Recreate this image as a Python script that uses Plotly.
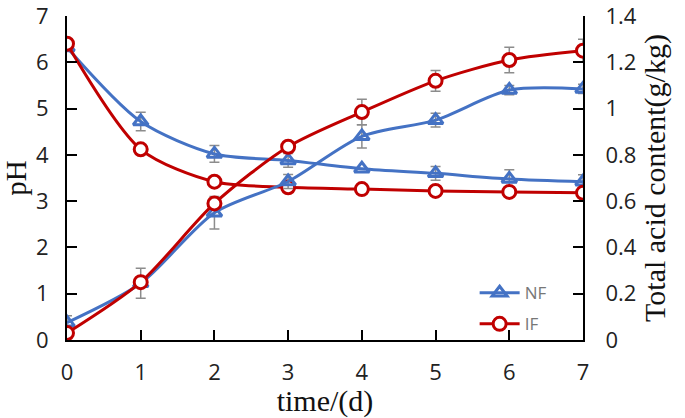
import plotly.graph_objects as go

days = [0, 1, 2, 3, 4, 5, 6, 7]

ph_nf = [6.32, 4.72, 4.02, 3.88, 3.70, 3.60, 3.48, 3.42]
ph_nf_err = [0.0, 0.2, 0.18, 0.15, 0.0, 0.15, 0.2, 0.15]
ph_if = [6.40, 4.12, 3.42, 3.30, 3.26, 3.22, 3.20, 3.18]
ph_if_err = [0, 0, 0, 0, 0, 0, 0, 0]

acid_nf = [0.075, 0.245, 0.55, 0.685, 0.88, 0.95, 1.08, 1.085]
acid_nf_err = [0.03, 0.065, 0.07, 0.03, 0.05, 0.03, 0.02, 0.02]
acid_if = [0.03, 0.25, 0.59, 0.835, 0.985, 1.12, 1.21, 1.25]
acid_if_err = [0.0, 0.0, 0.0, 0.02, 0.055, 0.045, 0.055, 0.05]

BLUE = "#4472C4"
RED = "#C00000"
GRAY = "#8c8c8c"

def err(arr):
    return dict(type="data", array=arr, visible=True, color=GRAY, thickness=1.5, width=5)

fig = go.Figure()
tri = dict(symbol="triangle-up-open", size=13, color=BLUE, line=dict(width=3, color=BLUE))
cir = dict(symbol="circle", size=13, color="white", line=dict(width=3, color=RED))

fig.add_trace(go.Scatter(x=days, y=ph_nf, error_y=err(ph_nf_err), mode="lines+markers",
                         line=dict(color=BLUE, width=3, shape="spline", smoothing=0.8), marker=tri,
                         name="NF", showlegend=True, legendgroup="a"))
fig.add_trace(go.Scatter(x=days, y=ph_if, error_y=err(ph_if_err), mode="lines+markers",
                         line=dict(color=RED, width=3, shape="spline", smoothing=0.8), marker=cir,
                         name="IF", showlegend=True, legendgroup="b"))
fig.add_trace(go.Scatter(x=days, y=acid_nf, error_y=err(acid_nf_err), mode="lines+markers",
                         line=dict(color=BLUE, width=3, shape="spline", smoothing=0.8), marker=tri,
                         name="NF acid", showlegend=False, yaxis="y2"))
fig.add_trace(go.Scatter(x=days, y=acid_if, error_y=err(acid_if_err), mode="lines+markers",
                         line=dict(color=RED, width=3, shape="spline", smoothing=0.8), marker=cir,
                         name="IF acid", showlegend=False, yaxis="y2"))

tickfont = dict(family="Open Sans, Liberation Sans, sans-serif", size=22, color="#222222")
serif = "Liberation Serif, Times New Roman, serif"

axis_common = dict(ticks="inside", ticklen=10, tickwidth=1.5, tickcolor="black",
                   showline=True, linecolor="black", linewidth=2, showgrid=False,
                   zeroline=False, tickfont=tickfont, ticklabeloverflow="allow",
                   automargin=False)

fig.update_layout(
    width=685, height=418,
    paper_bgcolor="white", plot_bgcolor="white",
    margin=dict(l=67, r=102, t=16, b=78),
    xaxis=dict(range=[0, 7], tickvals=days, ticklabelstandoff=12,
               title=dict(text="time/(d)", font=dict(family=serif, size=30, color="#111"),
                          standoff=4), **axis_common),
    yaxis=dict(range=[0, 7], dtick=1, ticklabelstandoff=12,
               title=dict(text="pH", font=dict(family=serif, size=29, color="#111"),
                          standoff=6), **axis_common),
    yaxis2=dict(range=[0, 1.4], dtick=0.2, overlaying="y", side="right", tickformat="~g",
                ticklabelstandoff=16,
                title=dict(text="Total acid content(g/kg)", font=dict(family=serif, size=30, color="#111"),
                           standoff=8),
                **axis_common),
    legend=dict(x=0.79, y=0.2, xanchor="left", yanchor="top",
                bgcolor="rgba(0,0,0,0)", font=dict(family="Open Sans, sans-serif", size=17, color="#777777"),
                tracegroupgap=6, itemwidth=40),
    showlegend=True,
)

fig.write_html("out.html", post_script="document.body.style.margin='0';",
               config={"displayModeBar": False})
